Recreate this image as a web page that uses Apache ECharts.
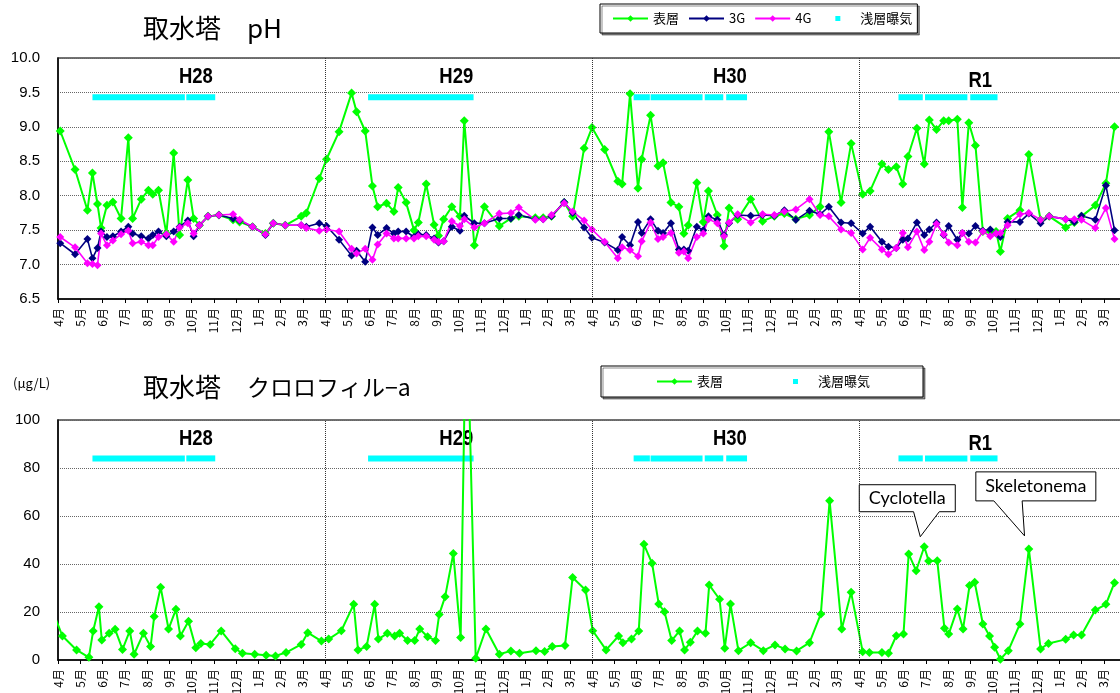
<!DOCTYPE html>
<html>
<head>
<meta charset="utf-8">
<script src="https://cdn.jsdelivr.net/npm/echarts@6/dist/echarts.min.js"></script>
<style>
  html, body { margin: 0; padding: 0; background: #fff; }
  #chart { width: 1120px; height: 693px; }
</style>
</head>
<body>
<div id="chart"></div>
<script>
// ---- data -------------------------------------------------------------
const monthLabels = ['4月','5月','6月','7月','8月','9月','10月','11月','12月','1月','2月','3月'];
const fiscalYears = ['H28', 'H29', 'H30', 'R1'];

// pH sampling dates (fiscal 2016-04 .. 2020-03)
const phDates = [
  '2016-04-04','2016-04-24','2016-05-11','2016-05-18','2016-05-25','2016-05-30','2016-06-07','2016-06-15',
  '2016-06-26','2016-07-06','2016-07-12','2016-07-24','2016-08-03','2016-08-09','2016-08-17','2016-08-28',
  '2016-09-07','2016-09-15','2016-09-26','2016-10-04','2016-10-12','2016-10-24','2016-11-08','2016-11-27',
  '2016-12-06','2016-12-24','2017-01-11','2017-01-22','2017-02-07','2017-02-27','2017-03-06','2017-03-24',
  '2017-04-03','2017-04-20','2017-05-07','2017-05-14','2017-05-26','2017-06-05','2017-06-12','2017-06-24',
  '2017-07-04','2017-07-10','2017-07-21','2017-08-01','2017-08-07','2017-08-18','2017-08-29','2017-09-04',
  '2017-09-11','2017-09-22','2017-10-03','2017-10-09','2017-10-23','2017-11-06','2017-11-26','2017-12-12',
  '2017-12-23','2018-01-15','2018-01-26','2018-02-06','2018-02-22','2018-03-05','2018-03-21',
  '2018-04-01','2018-04-18','2018-05-06','2018-05-12','2018-05-23','2018-06-03','2018-06-08','2018-06-20',
  '2018-06-30','2018-07-07','2018-07-18','2018-07-29','2018-08-05','2018-08-11','2018-08-23','2018-09-01',
  '2018-09-08','2018-09-20','2018-09-29','2018-10-06','2018-10-18','2018-11-05','2018-11-21','2018-12-07',
  '2018-12-21','2019-01-06','2019-01-25','2019-02-08','2019-02-19','2019-03-07','2019-03-21',
  '2019-04-06','2019-04-16','2019-05-02','2019-05-11','2019-05-22','2019-05-31','2019-06-07','2019-06-19',
  '2019-06-29','2019-07-06','2019-07-16','2019-07-26','2019-08-02','2019-08-14','2019-08-21','2019-08-30',
  '2019-09-08','2019-09-18','2019-09-28','2019-10-06','2019-10-12','2019-10-22','2019-11-08','2019-11-20',
  '2019-12-06','2019-12-18','2020-01-10','2020-01-22','2020-02-01','2020-02-19','2020-03-04','2020-03-16'
];
const phSurface = [
  8.94,8.38,7.79,8.33,7.88,7.53,7.86,7.91,7.67,8.84,7.67,7.95,8.08,8.02,8.08,7.45,
  8.62,7.43,8.23,7.67,7.57,7.70,7.72,7.65,7.62,7.55,7.45,7.60,7.57,7.70,7.75,8.25,
  8.53,8.93,9.49,9.22,8.94,8.14,7.84,7.89,7.77,8.12,7.90,7.50,7.61,8.17,7.58,7.42,
  7.66,7.84,7.70,9.09,7.28,7.84,7.56,7.67,7.70,7.68,7.68,7.70,7.90,7.70,8.69,
  8.99,8.67,8.21,8.17,9.48,8.11,8.53,9.17,8.43,8.48,7.90,7.84,7.45,7.57,8.19,7.62,
  8.07,7.72,7.27,7.82,7.66,7.95,7.63,7.70,7.74,7.66,7.72,7.84,8.93,7.90,8.76,
  8.02,8.07,8.46,8.38,8.42,8.17,8.57,8.98,8.46,9.10,8.96,9.09,9.09,9.11,7.83,9.06,
  8.73,7.48,7.48,7.48,7.19,7.67,7.79,8.60,7.65,7.70,7.54,7.61,7.70,7.86,8.18,9.00
];
const ph3G = [
  7.31,7.15,7.37,7.09,7.24,7.48,7.40,7.41,7.48,7.55,7.45,7.41,7.38,7.43,7.48,7.41,
  7.48,7.55,7.64,7.41,7.57,7.70,7.72,7.67,7.64,7.55,7.43,7.60,7.57,7.57,7.55,7.60,
  7.56,7.36,7.13,7.20,7.04,7.54,7.43,7.53,7.45,7.48,7.48,7.40,7.44,7.43,7.38,7.32,
  7.34,7.55,7.49,7.71,7.60,7.60,7.67,7.67,7.72,7.66,7.66,7.70,7.91,7.75,7.54,
  7.39,7.32,7.21,7.40,7.28,7.62,7.46,7.66,7.49,7.46,7.60,7.22,7.22,7.20,7.55,7.50,
  7.70,7.65,7.43,7.60,7.72,7.71,7.72,7.71,7.79,7.65,7.78,7.73,7.84,7.61,7.60,
  7.45,7.55,7.33,7.26,7.24,7.36,7.38,7.61,7.43,7.51,7.61,7.43,7.56,7.36,7.46,7.45,
  7.56,7.49,7.51,7.45,7.40,7.62,7.62,7.74,7.60,7.70,7.66,7.62,7.71,7.65,8.15,7.50
];
const ph4G = [
  7.40,7.25,7.02,7.01,6.99,7.45,7.28,7.35,7.44,7.49,7.31,7.33,7.28,7.28,7.40,7.44,
  7.33,7.54,7.60,7.45,7.57,7.70,7.72,7.73,7.65,7.55,7.44,7.60,7.57,7.57,7.53,7.49,
  7.51,7.48,7.23,7.16,7.23,7.07,7.29,7.45,7.38,7.38,7.38,7.38,7.41,7.41,7.36,7.33,
  7.34,7.63,7.56,7.66,7.54,7.60,7.74,7.75,7.83,7.65,7.66,7.72,7.89,7.77,7.64,
  7.51,7.33,7.09,7.25,7.21,7.12,7.34,7.61,7.37,7.40,7.46,7.17,7.19,7.09,7.40,7.45,
  7.66,7.60,7.41,7.61,7.73,7.61,7.73,7.72,7.77,7.80,7.95,7.72,7.70,7.51,7.46,
  7.22,7.39,7.22,7.15,7.24,7.46,7.25,7.48,7.21,7.33,7.59,7.44,7.32,7.28,7.46,7.33,
  7.32,7.48,7.41,7.45,7.46,7.57,7.73,7.75,7.65,7.70,7.66,7.66,7.65,7.53,7.82,7.37
];

// chlorophyll-a sampling dates and values (μg/L)
const chlDates = [
  '2016-03-25','2016-04-07','2016-04-26','2016-05-13','2016-05-19','2016-05-27','2016-05-31','2016-06-10',
  '2016-06-18','2016-06-28','2016-07-08','2016-07-14','2016-07-27','2016-08-06','2016-08-11','2016-08-20',
  '2016-08-31','2016-09-10','2016-09-16','2016-09-27','2016-10-07','2016-10-14','2016-10-27','2016-11-11',
  '2016-11-30','2016-12-10','2016-12-27','2017-01-12','2017-01-25','2017-02-08','2017-02-27','2017-03-08',
  '2017-03-27',
  '2017-04-06','2017-04-23','2017-05-10','2017-05-16','2017-05-28','2017-06-08','2017-06-13','2017-06-25',
  '2017-07-05','2017-07-12','2017-07-23','2017-08-02','2017-08-09','2017-08-20','2017-08-31','2017-09-05',
  '2017-09-13','2017-09-24','2017-10-04','2017-10-12','2017-10-25','2017-11-08','2017-11-26','2017-12-12',
  '2017-12-24','2018-01-16','2018-01-28','2018-02-07','2018-02-23','2018-03-05','2018-03-23',
  '2018-04-02','2018-04-20','2018-05-07','2018-05-13','2018-05-25','2018-06-04','2018-06-11','2018-06-22',
  '2018-07-01','2018-07-09','2018-07-19','2018-07-30','2018-08-06','2018-08-14','2018-08-24','2018-09-04',
  '2018-09-09','2018-09-23','2018-09-30','2018-10-08','2018-10-19','2018-11-05','2018-11-22','2018-12-08',
  '2018-12-22','2019-01-07','2019-01-25','2019-02-09','2019-02-20','2019-03-08','2019-03-21',
  '2019-04-06','2019-04-15','2019-05-02','2019-05-11','2019-05-22','2019-06-01','2019-06-08','2019-06-18',
  '2019-06-29','2019-07-05','2019-07-17','2019-07-27','2019-08-02','2019-08-14','2019-08-22','2019-08-31',
  '2019-09-07','2019-09-18','2019-09-27','2019-10-04','2019-10-12','2019-10-23','2019-11-08','2019-11-20',
  '2019-12-06','2019-12-17','2020-01-10','2020-01-21','2020-02-01','2020-02-19','2020-03-04','2020-03-16'
];
const chlSurface = [
  20.0,10.0,4.2,1.1,12.1,22.2,8.3,11.1,12.8,4.4,12.1,2.4,11.1,5.6,18.1,30.3,
  12.9,21.1,10.0,16.1,5.1,6.9,6.5,12.1,4.7,2.8,2.4,2.0,1.7,3.1,6.5,11.4,
  7.9,
  8.7,12.2,23.2,4.2,5.6,23.2,8.7,11.1,10.0,11.1,8.1,8.1,12.9,9.7,8.1,19.0,
  26.4,44.4,9.4,155,0.7,12.9,2.4,3.8,2.8,3.9,3.5,5.6,6.0,34.4,29.2,
  12.2,4.2,10.0,7.2,8.7,12.1,48.2,40.3,23.3,20.1,8.1,12.1,4.2,7.4,12.1,11.1,
  31.3,25.3,4.9,23.3,3.9,7.2,3.9,6.3,4.6,3.8,7.2,19.2,66.4,12.9,28.2,
  3.4,3.1,3.1,2.8,10.1,10.8,44.2,37.2,47.2,41.3,41.4,13.2,10.8,21.3,12.9,31.0,
  32.4,15.0,10.0,5.3,0.3,3.9,15.0,46.3,4.6,6.9,8.6,10.4,10.4,20.8,23.2,32.2
];

// shallow-layer aeration periods (start, end)
const aerationPeriods = [
  ['2016-05-18','2016-09-22'], ['2016-09-24','2016-11-03'],
  ['2017-05-30','2017-10-22'],
  ['2018-05-28','2018-06-19'], ['2018-06-20','2018-08-31'], ['2018-09-03','2018-09-28'], ['2018-10-02','2018-10-31'],
  ['2019-05-25','2019-06-27'], ['2019-06-30','2019-08-28'], ['2019-09-01','2019-10-08']
];

// dominant species notes on the chlorophyll peaks
const speciesNotes = [
  { text: 'Cyclotella',  date: '2019-06-29' },
  { text: 'Skeletonema', date: '2019-11-20' }
];

// ---- helpers ----------------------------------------------------------
// months elapsed since 2016-04-01 (fractional, by day of month)
function monthPos(dateStr) {
  const [y, m, d] = dateStr.split('-').map(Number);
  const daysInMonth = new Date(y, m, 0).getDate();
  return (y - 2016) * 12 + (m - 4) + (d - 1) / daysInMonth;
}
const pairs = (dates, vals) => dates.map((d, i) => [monthPos(d), vals[i]]);

const FONT_JP = '"Noto Sans CJK JP", sans-serif';
const FONT_NUM = '"Liberation Sans", Arial, sans-serif';
const GREEN = '#00FF00', NAVY = '#000080', MAGENTA = '#FF00FF', CYAN = '#00FFFF';

function monthAxis(gridIndex) {
  return {
    type: 'value', gridIndex, min: 0, max: fiscalYears.length * 12, interval: 1,
    axisLine: { show: true, onZero: false, lineStyle: { color: '#000', width: 1.5 } },
    axisTick: { show: true, length: 4, lineStyle: { color: '#000' } },
    axisLabel: {
      rotate: 90, margin: 9, fontSize: 12, color: '#000', fontFamily: FONT_JP,
      showMaxLabel: false,
      formatter: v => monthLabels[((Math.round(v) % 12) + 12) % 12]
    },
    splitLine: { show: false }
  };
}

function valueAxis(gridIndex, min, max, interval, fmt) {
  return {
    type: 'value', gridIndex, min, max, interval,
    axisLine: { show: true, lineStyle: { color: '#000', width: 1.5 } },
    axisTick: { show: false },
    axisLabel: { fontSize: 15, margin: 18, color: '#000', fontFamily: FONT_NUM, formatter: fmt },
    splitLine: { show: true, lineStyle: { type: 'dotted', color: '#666', width: 1 } }
  };
}

const yearBoundaries = {
  silent: true, symbol: ['none', 'none'], label: { show: false },
  lineStyle: { type: 'dotted', color: '#333', width: 1 },
  data: fiscalYears.slice(1).map((_, i) => ({ xAxis: (i + 1) * 12 }))
};

function lineSeries(name, data, color, gridIndex, symbolSize, width, withBoundaries) {
  const s = {
    type: 'line', name, data, xAxisIndex: gridIndex, yAxisIndex: gridIndex,
    symbol: 'diamond', symbolSize, showSymbol: true, clip: true,
    itemStyle: { color }, lineStyle: { color, width }, z: 3
  };
  if (withBoundaries) s.markLine = yearBoundaries;
  return s;
}

function aerationSeries(gridIndex, level) {
  return {
    type: 'custom', name: '浅層曝気', xAxisIndex: gridIndex, yAxisIndex: gridIndex,
    data: aerationPeriods.map(p => [monthPos(p[0]), monthPos(p[1])]),
    encode: { x: [0, 1] },
    itemStyle: { color: CYAN }, z: 2, silent: true,
    renderItem(params, api) {
      const a = api.coord([api.value(0), level]);
      const b = api.coord([api.value(1), level]);
      return { type: 'rect', shape: { x: a[0], y: a[1] - 3, width: b[0] - a[0], height: 6 },
               style: { fill: CYAN } };
    }
  };
}

const aerationIcon = 'path://M0,0M35,8M15,1.5h5v5h-5z';
const legendText = { fontSize: 13, color: '#000', fontFamily: FONT_JP };

const gridBase = {
  left: 58, width: 1068, show: true, borderColor: '#444', borderWidth: 1.5,
  backgroundColor: 'transparent', containLabel: false, outerBoundsMode: 'none'
};
const titleFont = { fontWeight: 'normal', color: '#000', fontFamily: FONT_JP, lineHeight: 30 };

const option = {
  animation: false,
  backgroundColor: '#fff',
  title: [
    { text: '取水塔　pH', left: 143, top: 13, padding: 0,
      textStyle: Object.assign({ fontSize: 26 }, titleFont) },
    { text: '{a|取水塔　}{b|クロロフィル−a}', left: 143, top: 372, padding: 0,
      textStyle: Object.assign({
        fontSize: 26,
        rich: {
          a: Object.assign({ fontSize: 26 }, titleFont),
          b: Object.assign({ fontSize: 23 }, titleFont)
        }
      }, titleFont) },
    { text: '(μg/L)', left: 13, top: 377, padding: 0,
      textStyle: { fontSize: 13, fontWeight: 'normal', color: '#000', fontFamily: FONT_JP } }
  ],
  legend: [
    {
      left: 600, top: 4, padding: [8, 5, 8, 12], itemWidth: 35, itemHeight: 8, itemGap: 9,
      borderColor: '#000', borderWidth: 1, backgroundColor: '#fff',
      shadowColor: 'rgba(0,0,0,0.45)', shadowOffsetX: 2, shadowOffsetY: 2, shadowBlur: 0,
      textStyle: legendText, selectedMode: false,
      data: ['表層', '3G', '4G', { name: '浅層曝気', icon: aerationIcon }]
    },
    {
      left: 601, top: 366, padding: [9, 53, 9, 55], itemWidth: 35, itemHeight: 8, itemGap: 55,
      borderColor: '#000', borderWidth: 1, backgroundColor: '#fff',
      shadowColor: 'rgba(0,0,0,0.45)', shadowOffsetX: 2, shadowOffsetY: 2, shadowBlur: 0,
      textStyle: legendText, selectedMode: false,
      data: ['表層', { name: '浅層曝気', icon: aerationIcon }]
    }
  ],
  grid: [
    Object.assign({ top: 58, height: 241 }, gridBase),
    Object.assign({ top: 420, height: 240 }, gridBase)
  ],
  xAxis: [monthAxis(0), monthAxis(1)],
  yAxis: [
    valueAxis(0, 6.5, 10, 0.5, v => v.toFixed(1)),
    valueAxis(1, 0, 100, 20, v => String(v))
  ],
  series: [
    aerationSeries(0, 9.43),
    lineSeries('表層', pairs(phDates, phSurface), GREEN, 0, 9, 2, true),
    lineSeries('3G', pairs(phDates, ph3G), NAVY, 0, 8, 1.6, false),
    lineSeries('4G', pairs(phDates, ph4G), MAGENTA, 0, 8, 1.6, false),
    aerationSeries(1, 84),
    lineSeries('表層', pairs(chlDates, chlSurface), GREEN, 1, 9, 2, true)
  ]
};

const chart = echarts.init(document.getElementById('chart'));
chart.setOption(option);

// ---- overlays: fiscal-year captions and species callouts --------------
const yearCaption = [
  // month position of each caption centre and its height in axis units
  { grid: 0, at: [6.2, 17.9, 30.2, 41.45], y: [9.72, 9.72, 9.72, 9.66] },
  { grid: 1, at: [6.2, 17.9, 30.2, 41.45], y: [92, 92, 92, 90] }
];
// callout geometry relative to the marked point (px)
const calloutShape = {
  Cyclotella:  { box: [-65, -62, 31, -35], base: [-10.7, 15], tip: [-4, -10] },
  Skeletonema: { box: [-53, -77, 67, -48], base: [-35, -6.7], tip: [-4.3, -13] }
};

function overlays() {
  const g = [];
  yearCaption.forEach(row => {
    fiscalYears.forEach((fy, i) => {
      const p = chart.convertToPixel({ gridIndex: row.grid }, [row.at[i], row.y[i]]);
      g.push({
        type: 'text', x: p[0], y: p[1], scaleX: 0.84, z: 0, silent: true,
        style: { text: fy, fill: '#000', align: 'center', verticalAlign: 'middle',
                 fontSize: 22, fontWeight: 'bold', fontFamily: FONT_NUM }
      });
    });
  });
  speciesNotes.forEach(note => {
    const idx = chlDates.indexOf(note.date);
    const p = chart.convertToPixel({ gridIndex: 1 }, [monthPos(note.date), chlSurface[idx]]);
    const s = calloutShape[note.text];
    const x0 = p[0] + s.box[0], y0 = p[1] + s.box[1], x1 = p[0] + s.box[2], y1 = p[1] + s.box[3];
    const tip = [p[0] + s.tip[0], p[1] + s.tip[1]];
    g.push({
      type: 'polygon', z: 100, silent: true,
      shape: { points: [[x0, y0], [x1, y0], [x1, y1], [p[0] + s.base[1], y1], tip, [p[0] + s.base[0], y1], [x0, y1]] },
      style: { fill: '#fff', stroke: '#000', lineWidth: 1 }
    });
    g.push({
      type: 'text', z: 101, silent: true, x: (x0 + x1) / 2, y: (y0 + y1) / 2,
      style: { text: note.text, fill: '#000', align: 'center', verticalAlign: 'middle',
               fontSize: 18, fontFamily: 'Lato, "Open Sans", sans-serif' }
    });
  });
  chart.setOption({ graphic: g });
}
overlays();
</script>
</body>
</html>
